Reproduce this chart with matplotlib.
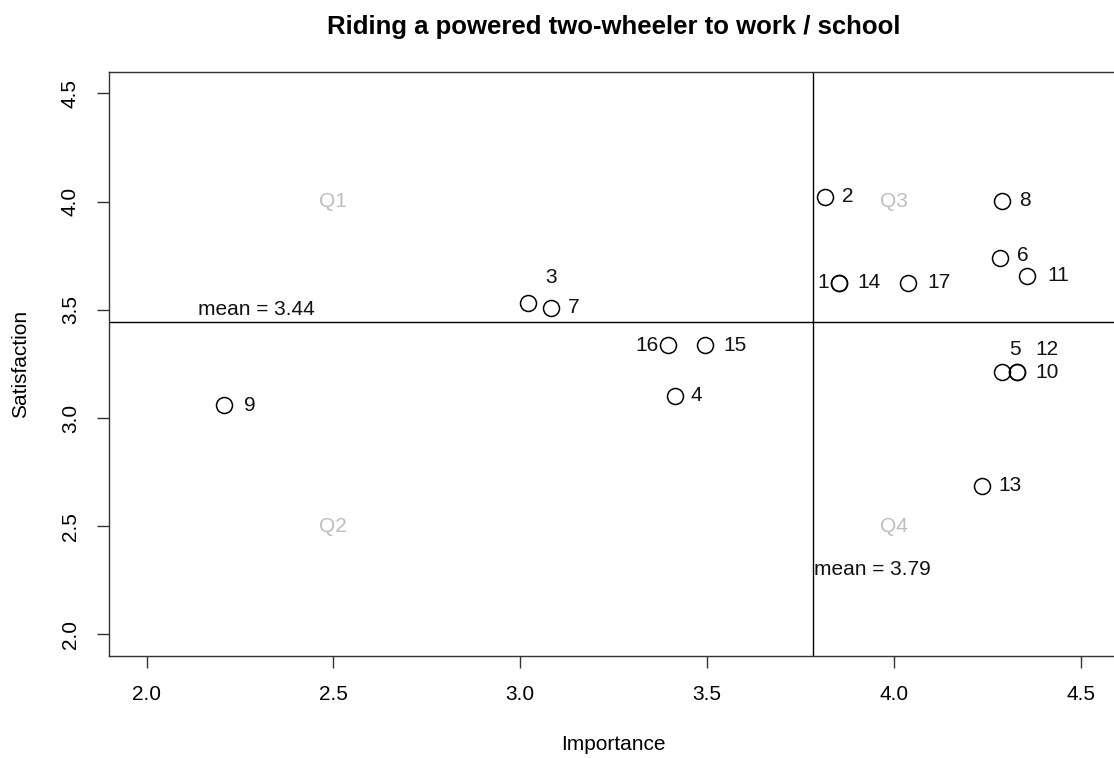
import matplotlib
matplotlib.use("Agg")
import matplotlib.pyplot as plt

# ---------------- data ----------------
ids = list(range(1, 18))
importance = [3.853, 3.816, 3.020, 3.414, 4.290, 4.284, 3.082, 4.289, 2.207,
              4.330, 4.357, 4.330, 4.235, 3.853, 3.495, 3.396, 4.038]
satisfaction = [3.625, 4.023, 3.532, 3.102, 3.211, 3.740, 3.509, 4.004, 3.059,
                3.211, 3.657, 3.211, 2.687, 3.625, 3.335, 3.335, 3.625]
mean_importance = 3.785
mean_satisfaction = 3.444
mean_imp_label = "mean = 3.79"
mean_sat_label = "mean = 3.44"
quadrant_names = ["Q1", "Q2", "Q3", "Q4"]
quadrant_x = [2.5, 2.5, 4.0, 4.0]
quadrant_y = [4.0, 2.5, 4.0, 2.5]
xticks = [2.0, 2.5, 3.0, 3.5, 4.0, 4.5]
yticks = [2.0, 2.5, 3.0, 3.5, 4.0, 4.5]
title = "Riding a powered two-wheeler to work / school"

# label placement (offset in pixels, alignment) -- styling only
label_style = {
    1: (-10, 0, "right", "center"),
    2: (17, 0, "left", "center"),
    3: (23, 25, "center", "center"),
    4: (16, 0, "left", "center"),
    5: (13, 23, "center", "center"),
    6: (17, 2, "left", "center"),
    7: (17, 0, "left", "center"),
    8: (17, 0, "left", "center"),
    9: (20, 0, "left", "center"),
    10: (18, 0, "left", "center"),
    11: (20, 0, "left", "center"),
    12: (30, 23, "center", "center"),
    13: (17, 0, "left", "center"),
    14: (18, 0, "left", "center"),
    15: (18, 0, "left", "center"),
    16: (-10, 0, "right", "center"),
    17: (19, 0, "left", "center"),
}

plt.rcParams["font.family"] = ["Liberation Sans", "DejaVu Sans"]
FS = 15

fig = plt.figure(figsize=(11.14, 7.58), dpi=100)
ax = fig.add_axes([0.098, 0.1346, 0.9056, 0.7708])

ax.plot(importance, satisfaction, linestyle="none", marker="o", markersize=11.5,
        markerfacecolor="none", markeredgecolor="black", markeredgewidth=1.1)

for i, x, y in zip(ids, importance, satisfaction):
    dx, dy, ha, va = label_style[i]
    ax.annotate(str(i), (x, y), xytext=(dx, dy), textcoords="offset pixels",
                ha=ha, va=va, fontsize=FS, color="#111111")

ax.axvline(mean_importance, color="black", lw=1.0)
ax.axhline(mean_satisfaction, color="black", lw=1.0)

ax.annotate(mean_sat_label, (2.295, mean_satisfaction), xytext=(0, 3),
            textcoords="offset pixels", ha="center", va="bottom",
            fontsize=FS, color="#111111")
ax.annotate(mean_imp_label, (mean_importance, 2.3), xytext=(1, 0),
            textcoords="offset pixels", ha="left", va="center",
            fontsize=FS, color="#111111")

for q, qx, qy in zip(quadrant_names, quadrant_x, quadrant_y):
    ax.text(qx, qy, q, ha="center", va="center", fontsize=FS, color="#BEBEBE")

ax.set_xlim(1.9, 4.6)
ax.set_ylim(1.9, 4.6)
ax.set_xticks(xticks)
ax.set_xticklabels([f"{t:.1f}" for t in xticks], fontsize=FS)
ax.set_yticks(yticks)
ax.set_yticklabels([f"{t:.1f}" for t in yticks], fontsize=FS, rotation=90, va="center")
ax.tick_params(direction="out", length=8.6, width=1.0, pad=12.5, color="#333333")
for s in ax.spines.values():
    s.set_linewidth(1.0)
    s.set_color("#333333")

ax.set_xlabel("Importance", fontsize=FS, labelpad=22)
ax.set_ylabel("Satisfaction", fontsize=FS, labelpad=22)
fig.text(0.551, 1 - 27 / 758, title, ha="center", va="center",
         fontsize=18.5, fontweight="bold")

fig.savefig("out.png", dpi=100)
